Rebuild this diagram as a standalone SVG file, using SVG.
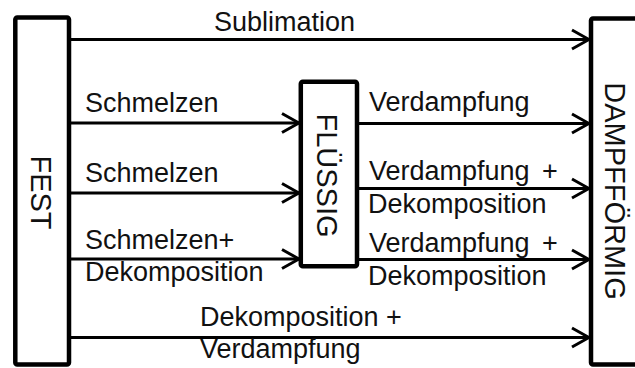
<svg xmlns="http://www.w3.org/2000/svg" width="635" height="368" viewBox="0 0 635 368">
  <defs>
    <style>
      .box { fill: #fff; stroke: #000; stroke-width: 4.5; }
      .flow { stroke: #000; stroke-width: 3; fill: none; marker-end: url(#arrow); }
      text { font-family: "Liberation Sans", Arial, sans-serif; fill: #111; }
      .lbl { font-size: 27px; }
      .phase { font-size: 29px; text-anchor: middle; }
    </style>
    <marker id="arrow" markerUnits="userSpaceOnUse" viewBox="-20 -12 22 24" refX="0" refY="0" markerWidth="22" markerHeight="24" orient="auto">
      <path d="M-17,-9.5 L0,0 L-17,9.5" fill="none" stroke="#000" stroke-width="3"/>
    </marker>
  </defs>
  <rect width="635" height="368" fill="#fff"/>

  <!-- phase boxes -->
  <g id="fest">
    <rect class="box" x="15.3" y="17.5" width="53.7" height="347" rx="2"/>
    <text class="phase" x="31" y="192.5" transform="rotate(90 31 192.5)">FEST</text>
  </g>
  <g id="fluessig">
    <rect class="box" x="300.8" y="81.7" width="56.2" height="184.5" rx="2"/>
    <text class="phase" x="317" y="175.5" transform="rotate(90 317 175.5)">FLÜSSIG</text>
  </g>
  <g id="dampffoermig">
    <rect class="box" x="591" y="18.5" width="60" height="346" rx="2"/>
    <text class="phase" x="605" y="191" transform="rotate(90 605 191)">DAMPFFÖRMIG</text>
  </g>

  <!-- transitions -->
  <g id="connectors">
    <line class="flow" x1="71" y1="39.5" x2="589" y2="39.5"/>
    <line class="flow" x1="71" y1="123" x2="299" y2="123"/>
    <line class="flow" x1="71" y1="193" x2="299" y2="193"/>
    <line class="flow" x1="71" y1="259" x2="299" y2="259"/>
    <line class="flow" x1="71" y1="337.5" x2="589" y2="337.5"/>
    <line class="flow" x1="359" y1="123.5" x2="589" y2="123.5"/>
    <line class="flow" x1="359" y1="188.5" x2="589" y2="188.5"/>
    <line class="flow" x1="359" y1="259.5" x2="589" y2="259.5"/>
  </g>

  <!-- transition labels -->
  <g id="labels">
    <text class="lbl" x="214" y="31">Sublimation</text>
    <text class="lbl" x="85" y="112">Schmelzen</text>
    <text class="lbl" x="85" y="182">Schmelzen</text>
    <text class="lbl" x="85" y="249">Schmelzen+</text>
    <text class="lbl" x="85" y="281">Dekomposition</text>
    <text class="lbl" x="369" y="111">Verdampfung</text>
    <text class="lbl" x="369" y="180">Verdampfung <tspan x="542">+</tspan></text>
    <text class="lbl" x="368" y="213">Dekomposition</text>
    <text class="lbl" x="369" y="252">Verdampfung <tspan x="542">+</tspan></text>
    <text class="lbl" x="368" y="285">Dekomposition</text>
    <text class="lbl" x="200" y="326">Dekomposition +</text>
    <text class="lbl" x="200" y="358">Verdampfung</text>
  </g>
</svg>
